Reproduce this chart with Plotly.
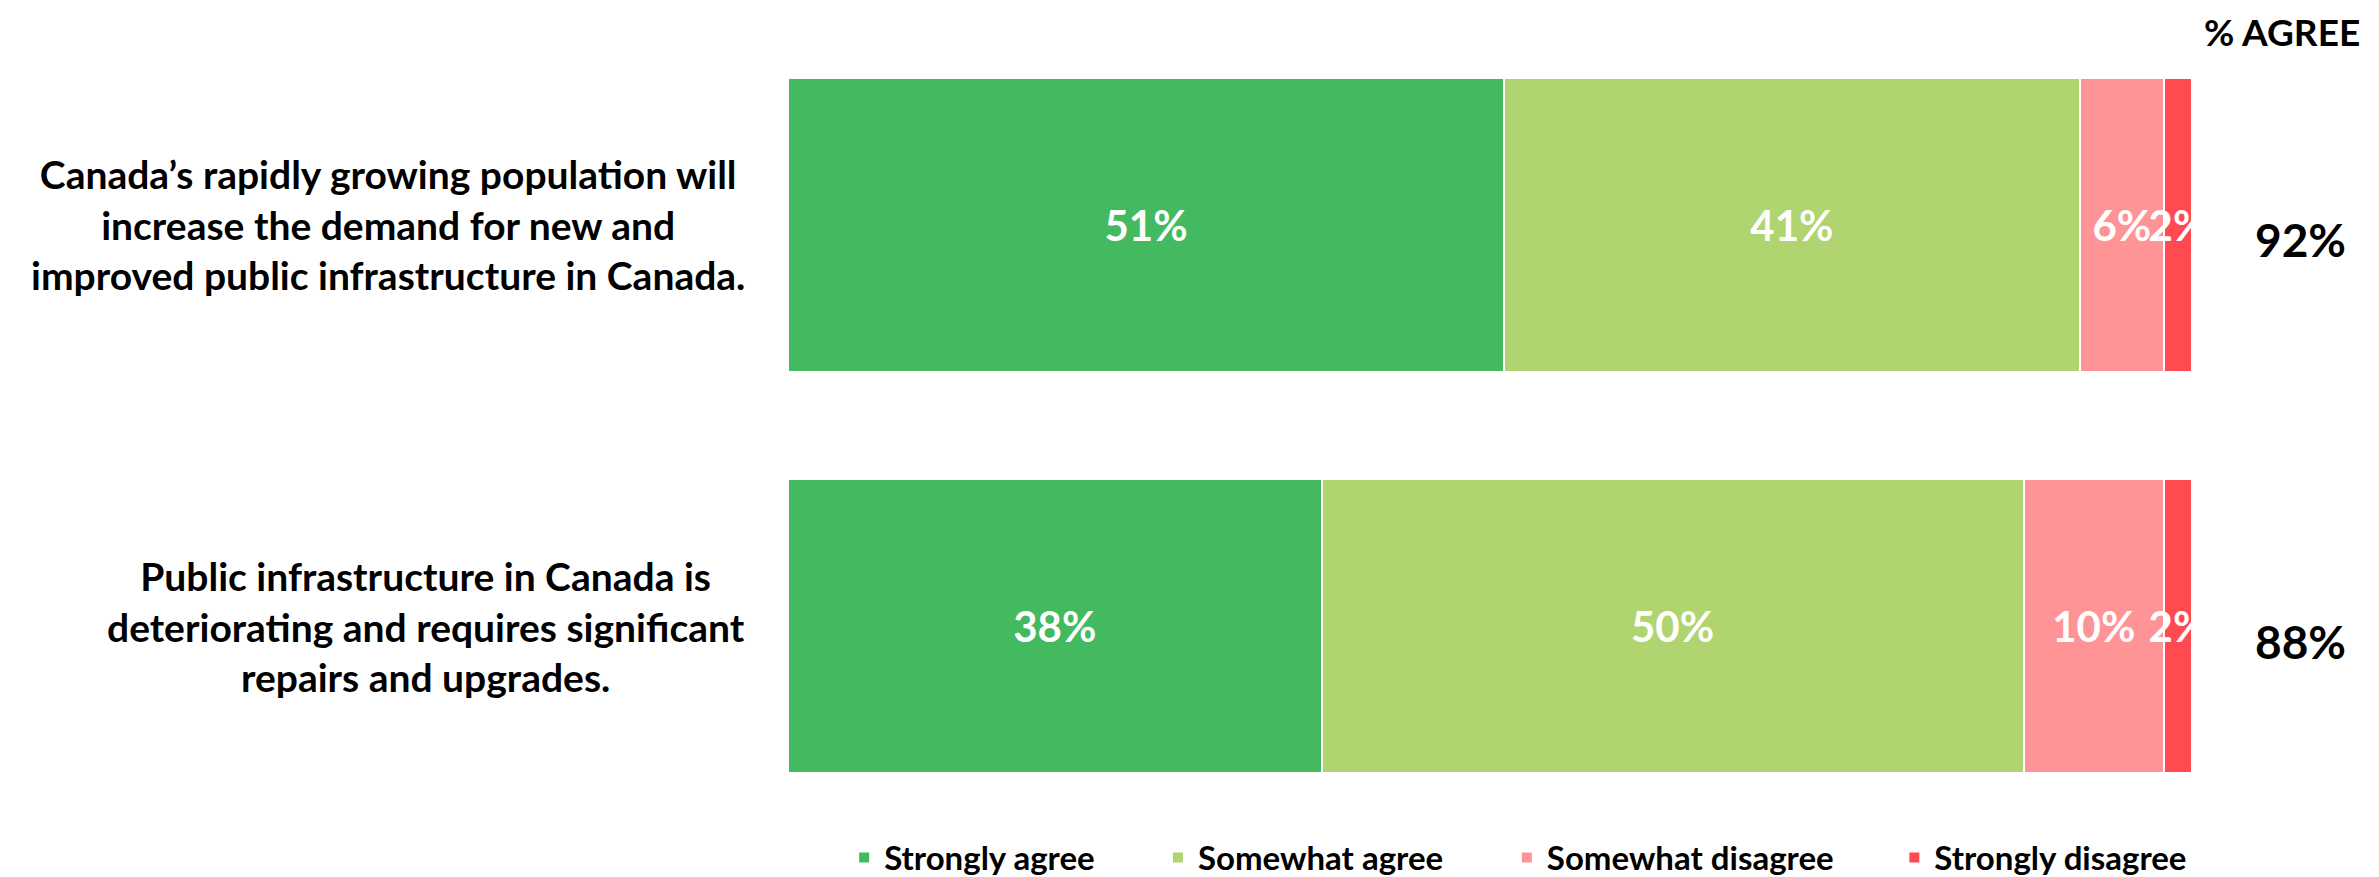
import plotly.graph_objects as go

statements = [
    "Canada’s rapidly growing population will<br>increase the demand for new and<br>improved public infrastructure in Canada.",
    "Public infrastructure in Canada is<br>deteriorating and requires significant<br>repairs and upgrades.",
]
series_names = ["Strongly agree", "Somewhat agree", "Somewhat disagree", "Strongly disagree"]
strongly_agree = [51, 38]
somewhat_agree = [41, 50]
somewhat_disagree = [6, 10]
strongly_disagree = [2, 2]
agree_total = [92, 88]
colors = ["#43BA5F", "#B0D46F", "#FF9496", "#FF4A52"]

FONT = "Lato"
series_values = [strongly_agree, somewhat_agree, somewhat_disagree, strongly_disagree]
legend_ids = ["legend", "legend2", "legend3", "legend4"]
legend_x = [0.040, 0.2635, 0.512, 0.788]

fig = go.Figure()
for name, vals, col, lg in zip(series_names, series_values, colors, legend_ids):
    fig.add_trace(go.Bar(
        y=statements, x=vals, name=name, orientation="h", legend=lg,
        marker=dict(color=col, line=dict(color="white", width=2)),
        text=[f"{v}%" for v in vals], textposition="inside",
        insidetextanchor="middle", textangle=0, constraintext="none",
        textfont=dict(family=FONT, size=42, color="white", weight="bold"),
        cliponaxis=True, hoverinfo="skip",
    ))

annotations = []
for s in statements:
    annotations.append(dict(
        x=0, xref="paper", xshift=-41, xanchor="right", y=s, yref="y",
        yanchor="middle", text=s, showarrow=False, align="center",
        font=dict(family=FONT, size=39, color="black", weight="bold"),
    ))
for s, t in zip(statements, agree_total):
    annotations.append(dict(
        x=1, xref="paper", xshift=108, xanchor="center", y=s, yref="y",
        yanchor="middle", yshift=-15, text=f"{t}%", showarrow=False,
        font=dict(family=FONT, size=46, color="black", weight="bold"),
    ))
annotations.append(dict(
    x=1, xref="paper", xshift=90, xanchor="center", y=1, yref="paper",
    yanchor="top", yshift=16, borderpad=0, text="% AGREE", showarrow=False,
    font=dict(family=FONT, size=37, color="black", weight="bold"),
))

legend_style = dict(orientation="h", y=-0.038, yanchor="middle", xanchor="left",
                    font=dict(family=FONT, size=33, color="black", weight="bold"),
                    itemwidth=30, bgcolor="rgba(0,0,0,0)")
layout_legends = {lg: dict(legend_style, x=lx) for lg, lx in zip(legend_ids, legend_x)}

fig.update_layout(
    width=2379, height=877,
    margin=dict(l=780, r=195, t=16, b=58, autoexpand=False),
    barmode="stack", bargap=0.267,
    plot_bgcolor="white", paper_bgcolor="white",
    xaxis=dict(range=[0, 100], visible=False, fixedrange=True),
    yaxis=dict(autorange=False, range=[1.5, -0.5], visible=False,
               categoryorder="array", categoryarray=statements),
    uniformtext=dict(minsize=42, mode="show"),
    annotations=annotations,
    showlegend=True,
    **layout_legends,
)
fig.write_html("out.html")
